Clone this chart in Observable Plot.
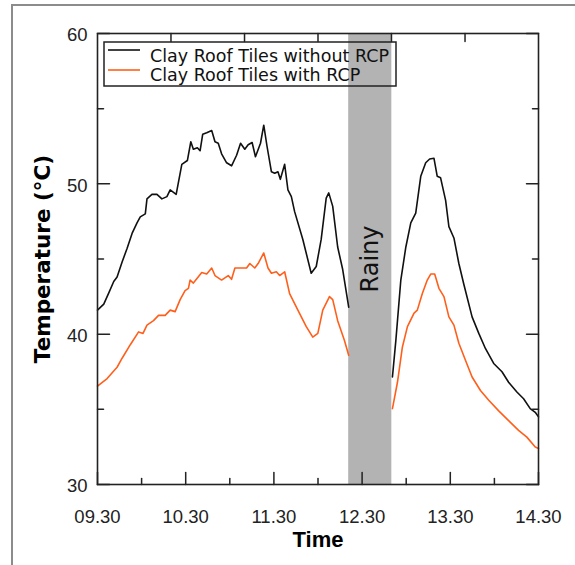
<!DOCTYPE html>
<html><head><meta charset="utf-8">
<script src="https://cdn.jsdelivr.net/npm/d3@7"></script>
<script src="https://cdn.jsdelivr.net/npm/@observablehq/plot@0.6"></script>
<style>
html,body{margin:0;padding:0;background:#fff;}
#wrap{position:relative;width:575px;height:565px;overflow:hidden;}
#outer{position:absolute;left:11px;top:4px;width:700px;height:700px;border:2px solid #8c8c8c;}
#chart{position:absolute;left:0;top:0;}
#legend{position:absolute;left:0;top:0;pointer-events:none;}
</style></head><body>
<div id="wrap"><div id="outer"></div><div id="chart"></div><svg id="legend" width="575" height="565"></svg></div>
<script>
// [time in decimal hours, temperature °C]
const blackMorning = [[9.50,41.6],[9.571,42.0],[9.628,42.75],[9.684,43.5],[9.722,43.8],[9.779,44.8],[9.835,45.7],[9.892,46.7],[9.948,47.4],[9.985,47.8],[10.042,48.0],[10.061,49.0],[10.117,49.3],[10.174,49.3],[10.230,49.0],[10.287,49.15],[10.324,49.6],[10.392,49.3],[10.456,51.3],[10.519,51.55],[10.558,52.8],[10.587,52.3],[10.632,52.4],[10.663,52.2],[10.693,53.3],[10.738,53.4],[10.795,53.55],[10.832,52.8],[10.869,52.7],[10.907,52.0],[10.964,51.4],[11.020,51.2],[11.077,51.9],[11.122,52.7],[11.170,52.3],[11.208,52.6],[11.253,52.75],[11.291,51.8],[11.348,52.7],[11.385,53.9],[11.422,52.5],[11.472,50.8],[11.509,50.7],[11.546,50.8],[11.573,50.3],[11.622,51.3],[11.659,49.6],[11.698,49.15],[11.735,48.15],[11.828,46.3],[11.923,44.05],[11.980,44.5],[12.036,46.3],[12.093,49.05],[12.122,49.4],[12.167,48.5],[12.223,45.8],[12.280,44.3],[12.348,41.8]];
const orangeMorning = [[9.50,36.55],[9.609,37.05],[9.722,37.8],[9.779,38.4],[9.872,39.3],[9.966,40.15],[10.016,40.05],[10.061,40.6],[10.135,40.9],[10.192,41.25],[10.267,41.25],[10.324,41.6],[10.380,41.5],[10.437,42.3],[10.493,42.9],[10.531,43.05],[10.550,43.6],[10.587,43.4],[10.682,44.1],[10.738,44.0],[10.795,44.4],[10.832,43.9],[10.907,43.6],[10.982,43.9],[11.020,43.65],[11.058,44.4],[11.133,44.4],[11.190,44.4],[11.227,44.7],[11.283,44.4],[11.321,44.7],[11.385,45.4],[11.433,44.4],[11.472,44.05],[11.528,44.15],[11.565,43.9],[11.622,44.15],[11.678,42.7],[11.772,41.6],[11.867,40.5],[11.941,39.8],[11.998,40.05],[12.054,41.6],[12.130,42.5],[12.167,42.3],[12.223,40.9],[12.299,39.6],[12.348,38.6]];
const blackAfternoon = [[12.844,37.15],[12.883,39.6],[12.939,43.6],[12.996,45.8],[13.052,47.4],[13.108,48.05],[13.165,50.5],[13.221,51.4],[13.266,51.65],[13.315,51.7],[13.352,50.5],[13.390,50.4],[13.447,48.9],[13.484,47.15],[13.541,46.4],[13.597,44.7],[13.654,43.3],[13.747,41.15],[13.823,40.05],[13.898,39.05],[13.992,38.05],[14.086,37.5],[14.161,36.8],[14.255,36.15],[14.331,35.7],[14.406,35.05],[14.463,34.8],[14.5,34.5]];
const orangeAfternoon = [[12.844,35.05],[12.901,36.8],[12.957,39.15],[13.014,40.5],[13.089,41.4],[13.126,41.6],[13.183,42.7],[13.239,43.6],[13.278,44.0],[13.323,44.0],[13.371,43.05],[13.428,42.5],[13.484,41.15],[13.541,40.6],[13.597,39.4],[13.673,38.25],[13.747,37.15],[13.842,36.25],[13.936,35.6],[14.049,34.9],[14.161,34.25],[14.274,33.6],[14.368,33.15],[14.463,32.5],[14.5,32.4]];
const rainy = [12.348, 12.837];
const rainyLabel = "Rainy";
const seriesNames = ["Clay Roof Tiles without RCP", "Clay Roof Tiles with RCP"];
const seriesColors = ["#111111", "#ff5f1a"];
const xTickValues = [9.5, 10.5, 11.5, 12.5, 13.5, 14.5];
const xTickLabels = ["09.30", "10.30", "11.30", "12.30", "13.30", "14.30"];
const xMinorTicks = [10, 11, 12, 13, 14];
const xTopTicks = [10.333, 11.167, 12.0, 12.833, 13.667];
const yTickValues = [30, 40, 50, 60];
const yTickLabels = ["30", "40", "50", "60"];
const yMinorTicks = [35, 45, 55];
const xTitle = "Time";
const yTitle = "Temperature (°C)";

const tickShape = {draw(ctx, l) { ctx.moveTo(0, 0); ctx.lineTo(0, -l); }};
const tk = {shape: tickShape, anchor: "start", stroke: "#222", strokeWidth: 1.5};

const chart = Plot.plot({
  width: 575, height: 565,
  marginLeft: 97, marginRight: 37, marginTop: 33, marginBottom: 81,
  style: {fontFamily: "'Liberation Sans', Arial, sans-serif", fontSize: "18px", color: "#222", background: "transparent"},
  x: {domain: [9.5, 14.5], axis: null},
  y: {domain: [30, 60], axis: null},
  marks: [
    Plot.rect([rainy], {x1: d => d[0], x2: d => d[1], fill: "#b3b3b3"}),
    Plot.text([{label: rainyLabel, x: (rainy[0] + rainy[1]) / 2}], {x: "x", text: "label", frameAnchor: "middle", rotate: -90, fontSize: 24, fontFamily: "'DejaVu Sans', sans-serif", fill: "#111"}),
    Plot.line(blackMorning, {x: d => d[0], y: d => d[1], stroke: seriesColors[0], strokeWidth: 1.6}),
    Plot.line(blackAfternoon, {x: d => d[0], y: d => d[1], stroke: seriesColors[0], strokeWidth: 1.6}),
    Plot.line(orangeMorning, {x: d => d[0], y: d => d[1], stroke: seriesColors[1], strokeWidth: 1.6}),
    Plot.line(orangeAfternoon, {x: d => d[0], y: d => d[1], stroke: seriesColors[1], strokeWidth: 1.6}),
    Plot.frame({stroke: "#222", strokeWidth: 1.6}),
    // inward ticks
    Plot.vector(xTickValues, {x: d => d, frameAnchor: "bottom", length: 12, rotate: 0, ...tk}),
    Plot.vector(xMinorTicks, {x: d => d, frameAnchor: "bottom", length: 6, rotate: 0, ...tk}),
    Plot.vector(xTopTicks, {x: d => d, frameAnchor: "top", length: 8, rotate: 180, ...tk}),
    Plot.vector(yTickValues, {y: d => d, frameAnchor: "left", length: 12, rotate: 90, ...tk}),
    Plot.vector(yMinorTicks, {y: d => d, frameAnchor: "left", length: 6, rotate: 90, ...tk}),
    Plot.vector(yTickValues, {y: d => d, frameAnchor: "right", length: 12, rotate: -90, ...tk}),
    Plot.vector(yMinorTicks, {y: d => d, frameAnchor: "right", length: 6, rotate: -90, ...tk}),
    // tick labels
    Plot.text(xTickValues, {x: d => d, text: (d, i) => xTickLabels[i], frameAnchor: "bottom", lineAnchor: "top", dy: 25, fontSize: 18.5, fill: "#222"}),
    Plot.text(yTickValues, {y: d => d, text: (d, i) => yTickLabels[i], frameAnchor: "left", textAnchor: "end", dx: -10, dy: 2, fontSize: 18.5, fill: "#222"}),
    // titles
    Plot.text([yTitle], {text: d => d, frameAnchor: "left", textAnchor: "middle", dx: -54, rotate: -90, fontWeight: "bold", fontSize: 21.5, fontFamily: "'DejaVu Sans', sans-serif", fill: "#000"}),
    Plot.text([xTitle], {text: d => d, frameAnchor: "bottom", dy: 62, fontWeight: "bold", fontSize: 22, fill: "#000"})
  ]
});
document.getElementById("chart").appendChild(chart);

// legend overlay
const lg = d3.select("#legend");
lg.append("rect").attr("x", 104).attr("y", 42).attr("width", 292).attr("height", 44)
  .attr("fill", "none").attr("stroke", "#222").attr("stroke-width", 1.5);
seriesNames.forEach((name, i) => {
  const yLine = 50 + i * 20, yText = 61.5 + i * 19;
  lg.append("line").attr("x1", 108).attr("x2", 140).attr("y1", yLine).attr("y2", yLine)
    .attr("stroke", seriesColors[i]).attr("stroke-width", 1.6);
  lg.append("text").attr("x", 150).attr("y", yText).text(name)
    .attr("font-family", "'DejaVu Sans', sans-serif").attr("font-size", 17.5).attr("fill", "#111");
});
</script>
</body></html>
